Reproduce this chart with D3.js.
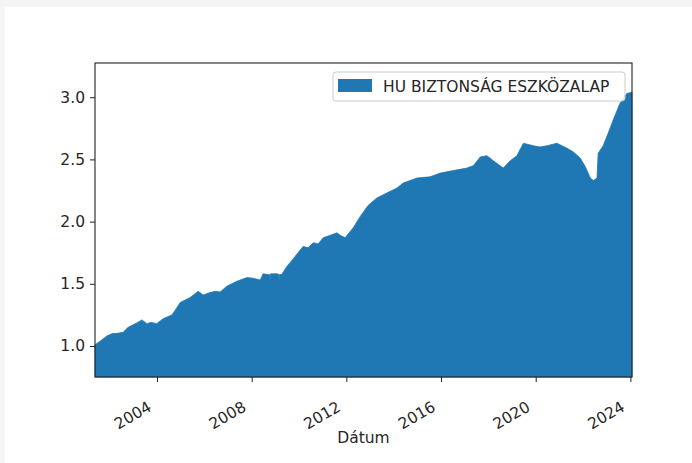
<!DOCTYPE html>
<html>
<head>
<meta charset="utf-8">
<script src="https://cdn.jsdelivr.net/npm/d3@7"></script>
<style>
  html, body { margin: 0; padding: 0; background: #f5f5f5; }
  svg { display: block; }
  text { font-family: "DejaVu Sans", sans-serif; fill: #262626; }
</style>
</head>
<body>
<svg id="chart" width="692" height="463"></svg>
<script>
// ---- data ----
const seriesName = "HU BIZTONSÁG ESZKÖZALAP";
const dates = [
  "2001-05-19","2001-08-10","2001-11-17","2002-02-10","2002-04-08","2002-07-27","2002-10-12","2002-12-28",
  "2003-03-10","2003-05-12","2003-07-28","2003-10-01","2003-12-28","2004-04-05","2004-08-18","2004-10-23",
  "2004-12-24","2005-05-27","2005-09-28","2005-12-13","2006-03-29","2006-06-17","2006-09-02","2006-12-13",
  "2007-05-16","2007-10-20","2008-01-23","2008-05-12","2008-06-25","2008-09-13","2008-10-05","2008-10-12",
  "2008-10-19","2008-11-10","2009-01-30","2009-02-22","2009-02-28","2009-03-06","2009-04-09","2009-06-28",
  "2009-10-01","2010-03-04","2010-05-23","2010-08-08","2010-10-23","2011-01-08","2011-04-27","2011-08-08",
  "2011-09-28","2011-12-13","2012-04-16","2012-07-31","2012-12-01","2013-04-16","2013-09-16","2014-02-21",
  "2014-05-27","2014-12-24","2015-07-16","2015-12-20","2016-07-08","2017-02-02","2017-05-12","2017-08-29",
  "2017-12-09","2018-03-17","2018-08-18","2018-12-05","2019-03-17","2019-06-25","2019-11-24","2020-03-10",
  "2020-06-25","2020-11-24","2021-04-27","2021-08-04","2021-11-20","2022-02-06","2022-04-23","2022-06-10",
  "2022-08-04","2022-08-22","2022-11-07","2023-01-23","2023-04-09","2023-07-24","2023-11-06","2024-01-26"
];
const values = [
  1.01,1.04,1.08,1.10,1.10,1.11,1.15,1.17,
  1.19,1.21,1.18,1.19,1.18,1.22,1.25,1.30,
  1.35,1.39,1.44,1.41,1.43,1.44,1.435,1.48,
  1.52,1.55,1.545,1.53,1.58,1.575,1.575,1.52,
  1.58,1.58,1.58,1.575,1.52,1.575,1.575,1.64,
  1.70,1.80,1.79,1.83,1.82,1.87,1.89,1.91,
  1.89,1.87,1.95,2.04,2.13,2.19,2.23,2.27,
  2.31,2.35,2.36,2.39,2.41,2.43,2.45,2.52,
  2.53,2.49,2.43,2.49,2.53,2.63,2.61,2.60,
  2.61,2.63,2.59,2.56,2.51,2.44,2.35,2.33,
  2.35,2.55,2.61,2.71,2.815,2.95,3.03,3.04
];
const yTicks = [1.0, 1.5, 2.0, 2.5, 3.0];
const xTickYears = [2004, 2008, 2012, 2016, 2020, 2024];
const xLabel = "Dátum";

// ---- layout ----
const svg = d3.select("#chart");
const W = 692, H = 463;
const plot = { left: 95, right: 632, top: 63, bottom: 377 };
const fontSize = 15.5;

svg.append("rect").attr("x", 0).attr("y", 0).attr("width", W).attr("height", H).attr("fill", "#f5f5f5");
svg.append("rect").attr("x", 5).attr("y", 7).attr("width", W - 5).attr("height", H - 7).attr("fill", "#ffffff");

const parse = d3.timeParse("%Y-%m-%d");
const data = dates.map((d, i) => ({ date: parse(d), value: values[i] }));

const x = d3.scaleTime()
  .domain(d3.extent(data, d => d.date))
  .range([plot.left, plot.right]);
const y = d3.scaleLinear()
  .domain([0.751, 3.275])
  .range([plot.bottom, plot.top]);

// area
const area = d3.area()
  .x(d => x(d.date))
  .y0(plot.bottom)
  .y1(d => y(d.value));
svg.append("path")
  .datum(data)
  .attr("d", area)
  .attr("fill", "#1f77b4")
  .attr("stroke", "#1f77b4")
  .attr("stroke-width", 0.8)
  .attr("stroke-linejoin", "round");

// y axis
const yAxis = d3.axisLeft(y).tickValues(yTicks).tickFormat(d3.format(".1f")).tickSize(5).tickPadding(5);
const gy = svg.append("g").attr("transform", `translate(${plot.left},0)`).call(yAxis);
gy.select(".domain").remove();
gy.selectAll(".tick line").attr("stroke", "#222").attr("stroke-width", 1);
gy.selectAll(".tick text").attr("font-size", fontSize).attr("fill", "#262626")
  .attr("font-family", "DejaVu Sans, sans-serif");

// x axis
const xTicks = xTickYears.map(yr => new Date(yr, 0, 1));
const xAxis = d3.axisBottom(x).tickValues(xTicks).tickFormat(d3.timeFormat("%Y")).tickSize(5);
const gx = svg.append("g").attr("transform", `translate(0,${plot.bottom})`).call(xAxis);
gx.select(".domain").remove();
gx.selectAll(".tick line").attr("stroke", "#222").attr("stroke-width", 1);
gx.selectAll(".tick text")
  .attr("font-size", fontSize)
  .attr("font-family", "DejaVu Sans, sans-serif")
  .attr("fill", "#262626")
  .attr("text-anchor", "end")
  .attr("dy", null)
  .attr("y", null)
  .attr("transform", "translate(-5,33) rotate(-30)");

// frame (spines)
svg.append("rect")
  .attr("x", plot.left).attr("y", plot.top)
  .attr("width", plot.right - plot.left).attr("height", plot.bottom - plot.top)
  .attr("fill", "none").attr("stroke", "#222").attr("stroke-width", 1.1);

// x label
svg.append("text")
  .attr("x", (plot.left + plot.right) / 2)
  .attr("y", 443)
  .attr("text-anchor", "middle")
  .attr("font-size", fontSize)
  .text(xLabel);

// legend
const lg = svg.append("g");
lg.append("rect")
  .attr("x", 333).attr("y", 72).attr("width", 292).attr("height", 29)
  .attr("rx", 3).attr("fill", "#ffffff").attr("fill-opacity", 0.8)
  .attr("stroke", "#cccccc").attr("stroke-width", 1);
lg.append("rect")
  .attr("x", 338).attr("y", 79).attr("width", 34).attr("height", 13)
  .attr("fill", "#1f77b4");
lg.append("text")
  .attr("x", 383).attr("y", 92)
  .attr("font-size", fontSize)
  .text(seriesName);
</script>
</body>
</html>
